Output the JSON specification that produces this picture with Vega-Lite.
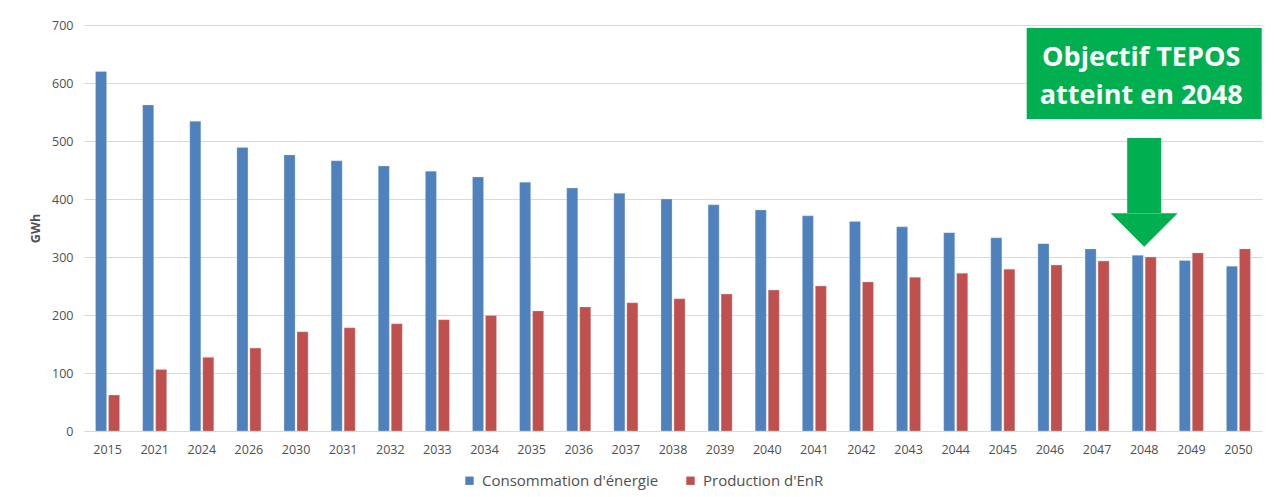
{
  "$schema": "https://vega.github.io/schema/vega-lite/v6.json",
  "width": 1178,
  "height": 406,
  "autosize": {"type": "none"},
  "padding": {"left": 84, "top": 25, "right": 15, "bottom": 66},
  "background": "white",
  "config": {
    "view": {"stroke": null},
    "font": "Open Sans",
    "axis": {"labelFont": "Open Sans", "titleFont": "Open Sans", "labelColor": "#505050", "titleColor": "#505050"}
  },
  "datasets": {
    "bars": [
      {"year": "2015", "serie": "Consommation d'énergie", "value": 620},
      {"year": "2015", "serie": "Production d'EnR", "value": 62},
      {"year": "2021", "serie": "Consommation d'énergie", "value": 562},
      {"year": "2021", "serie": "Production d'EnR", "value": 106},
      {"year": "2024", "serie": "Consommation d'énergie", "value": 534},
      {"year": "2024", "serie": "Production d'EnR", "value": 127},
      {"year": "2026", "serie": "Consommation d'énergie", "value": 489},
      {"year": "2026", "serie": "Production d'EnR", "value": 143},
      {"year": "2030", "serie": "Consommation d'énergie", "value": 476},
      {"year": "2030", "serie": "Production d'EnR", "value": 171},
      {"year": "2031", "serie": "Consommation d'énergie", "value": 466},
      {"year": "2031", "serie": "Production d'EnR", "value": 178},
      {"year": "2032", "serie": "Consommation d'énergie", "value": 457},
      {"year": "2032", "serie": "Production d'EnR", "value": 185},
      {"year": "2033", "serie": "Consommation d'énergie", "value": 448},
      {"year": "2033", "serie": "Production d'EnR", "value": 192},
      {"year": "2034", "serie": "Consommation d'énergie", "value": 438},
      {"year": "2034", "serie": "Production d'EnR", "value": 199},
      {"year": "2035", "serie": "Consommation d'énergie", "value": 429},
      {"year": "2035", "serie": "Production d'EnR", "value": 207},
      {"year": "2036", "serie": "Consommation d'énergie", "value": 419},
      {"year": "2036", "serie": "Production d'EnR", "value": 214},
      {"year": "2037", "serie": "Consommation d'énergie", "value": 410},
      {"year": "2037", "serie": "Production d'EnR", "value": 221},
      {"year": "2038", "serie": "Consommation d'énergie", "value": 400},
      {"year": "2038", "serie": "Production d'EnR", "value": 228},
      {"year": "2039", "serie": "Consommation d'énergie", "value": 390},
      {"year": "2039", "serie": "Production d'EnR", "value": 236},
      {"year": "2040", "serie": "Consommation d'énergie", "value": 381},
      {"year": "2040", "serie": "Production d'EnR", "value": 243},
      {"year": "2041", "serie": "Consommation d'énergie", "value": 371},
      {"year": "2041", "serie": "Production d'EnR", "value": 250},
      {"year": "2042", "serie": "Consommation d'énergie", "value": 361},
      {"year": "2042", "serie": "Production d'EnR", "value": 257},
      {"year": "2043", "serie": "Consommation d'énergie", "value": 352},
      {"year": "2043", "serie": "Production d'EnR", "value": 265},
      {"year": "2044", "serie": "Consommation d'énergie", "value": 342},
      {"year": "2044", "serie": "Production d'EnR", "value": 272},
      {"year": "2045", "serie": "Consommation d'énergie", "value": 333},
      {"year": "2045", "serie": "Production d'EnR", "value": 279},
      {"year": "2046", "serie": "Consommation d'énergie", "value": 323},
      {"year": "2046", "serie": "Production d'EnR", "value": 286},
      {"year": "2047", "serie": "Consommation d'énergie", "value": 314},
      {"year": "2047", "serie": "Production d'EnR", "value": 293},
      {"year": "2048", "serie": "Consommation d'énergie", "value": 303},
      {"year": "2048", "serie": "Production d'EnR", "value": 300},
      {"year": "2049", "serie": "Consommation d'énergie", "value": 294},
      {"year": "2049", "serie": "Production d'EnR", "value": 307},
      {"year": "2050", "serie": "Consommation d'énergie", "value": 284},
      {"year": "2050", "serie": "Production d'EnR", "value": 314}
    ],
    "box": [{"year": "2048", "top": 695, "bottom": 538}],
    "shaft": [{"year": "2048", "top": 505, "bottom": 376}],
    "head": [{"year": "2048", "value": 346.5}],
    "labels": [
      {"year": "2048", "value": 643, "text": "Objectif TEPOS"},
      {"year": "2048", "value": 577, "text": "atteint en 2048"}
    ]
  },
  "layer": [
    {
      "data": {"name": "bars"},
      "mark": {"type": "bar", "stroke": "#dfe8f3", "strokeWidth": 0.5, "strokeOpacity": 0.6},
      "encoding": {
        "x": {
          "field": "year", "type": "nominal", "sort": null,
          "scale": {"paddingInner": 0.49, "paddingOuter": 0.245},
          "axis": {"title": null, "labelAngle": 0, "ticks": false, "domain": false, "labelPadding": 12, "labelFontSize": 12.5}
        },
        "xOffset": {"field": "serie", "type": "nominal", "sort": ["Consommation d'énergie", "Production d'EnR"], "scale": {"paddingInner": 0.15}},
        "y": {
          "field": "value", "type": "quantitative",
          "scale": {"domain": [0, 700], "nice": false},
          "axis": {"title": "GWh", "titleFontSize": 12.5, "titleFontWeight": "bold", "titlePadding": 9, "values": [0, 100, 200, 300, 400, 500, 600, 700], "ticks": false, "domain": false, "labelPadding": 11, "labelFontSize": 12.5, "gridColor": "#d9d9d9", "gridWidth": 1}
        },
        "color": {
          "field": "serie", "type": "nominal",
          "sort": ["Consommation d'énergie", "Production d'EnR"],
          "scale": {"domain": ["Consommation d'énergie", "Production d'EnR"], "range": ["#4f81bd", "#c0504d"]},
          "legend": {"title": null, "orient": "none", "direction": "horizontal", "legendX": 378, "legendY": 448, "symbolType": "square", "symbolSize": 70, "symbolStrokeWidth": 0, "labelFontSize": 15, "labelLimit": 400, "labelColor": "#505050", "columnPadding": 24, "labelOffset": 5}
        }
      }
    },
    {
      "data": {"name": "box"},
      "mark": {"type": "bar", "width": 235, "color": "#00b050"},
      "encoding": {
        "x": {"field": "year", "type": "nominal"},
        "y": {"field": "top", "type": "quantitative"},
        "y2": {"field": "bottom"}
      }
    },
    {
      "data": {"name": "shaft"},
      "mark": {"type": "bar", "width": 34, "color": "#00b050"},
      "encoding": {
        "x": {"field": "year", "type": "nominal"},
        "y": {"field": "top", "type": "quantitative"},
        "y2": {"field": "bottom"}
      }
    },
    {
      "data": {"name": "head"},
      "mark": {"type": "point", "shape": "M-1,-0.5L1,-0.5L0,0.5Z", "size": 4489, "filled": true, "color": "#00b050", "opacity": 1, "strokeWidth": 0},
      "encoding": {
        "x": {"field": "year", "type": "nominal"},
        "y": {"field": "value", "type": "quantitative"}
      }
    },
    {
      "data": {"name": "labels"},
      "mark": {"type": "text", "color": "white", "font": "Open Sans", "fontWeight": "bold", "fontSize": 27, "align": "center", "baseline": "middle", "dx": -3},
      "encoding": {
        "x": {"field": "year", "type": "nominal"},
        "y": {"field": "value", "type": "quantitative"},
        "text": {"field": "text"}
      }
    }
  ]
}
